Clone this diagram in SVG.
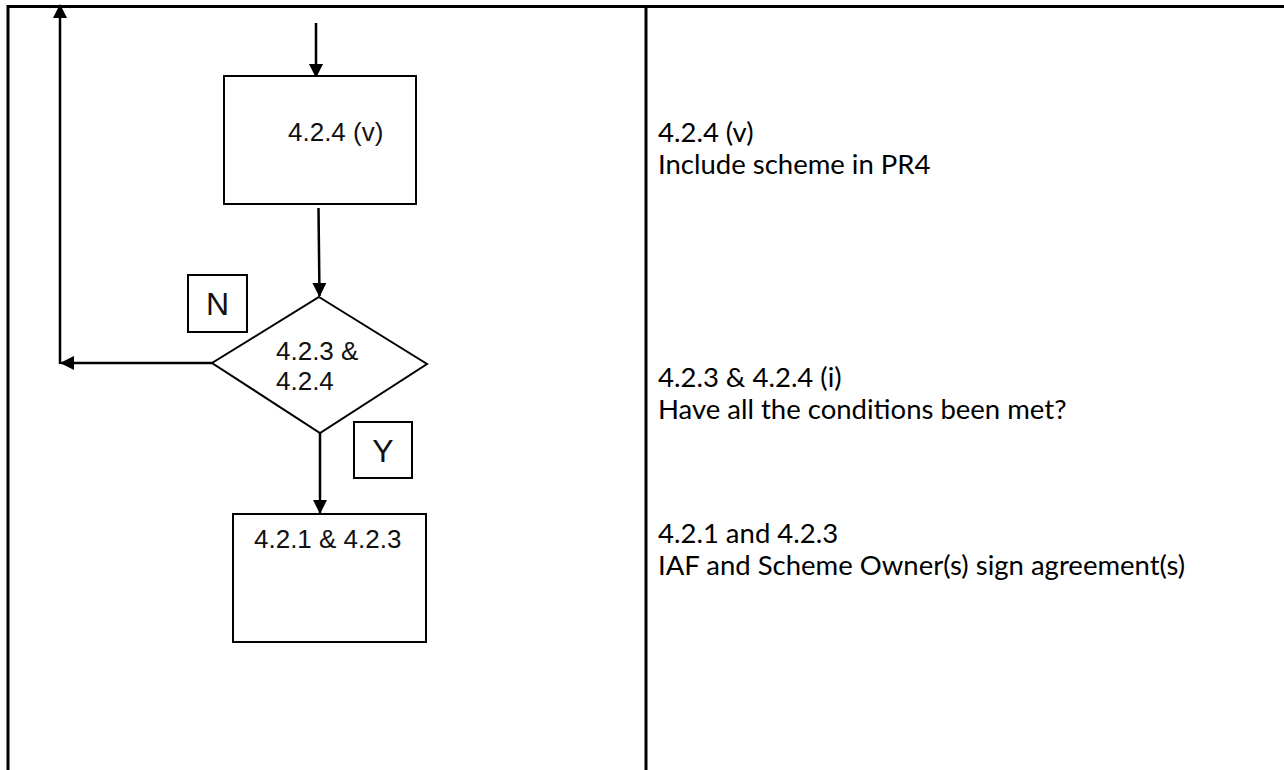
<svg xmlns="http://www.w3.org/2000/svg" width="1284" height="770" viewBox="0 0 1284 770">
<defs>
<marker id="ah" markerWidth="14" markerHeight="14" refX="13" refY="7" orient="auto" markerUnits="userSpaceOnUse">
<path d="M0,0 L14,7 L0,14 Z" fill="#000"/>
</marker>
<style>
.frame{stroke:#000;stroke-width:3;fill:none}
.shape{stroke:#000;stroke-width:2;fill:#fff}
.conn{stroke:#000;stroke-width:2.5;fill:none}
.lbl{font-family:"Liberation Sans",Arial,sans-serif;font-size:26px;fill:#111}
.big{font-family:"Liberation Sans",Arial,sans-serif;font-size:32px;fill:#111}
.desc{font-family:Lato,"Open Sans",sans-serif;font-size:27.5px;fill:#000}
</style>
</defs>
<rect width="1284" height="770" fill="#fff"/>
<g id="table">
<line class="frame" x1="8" y1="6.5" x2="1284" y2="6.5"/>
<line class="frame" x1="8" y1="5" x2="8" y2="770"/>
<line class="frame" x1="646" y1="5" x2="646" y2="770"/>
</g>
<g id="connectors">
<line class="conn" x1="316" y1="23" x2="316" y2="77" marker-end="url(#ah)"/>
<line class="conn" x1="318.5" y1="208" x2="319.5" y2="296" marker-end="url(#ah)"/>
<line class="conn" x1="212" y1="363" x2="61" y2="363" marker-end="url(#ah)"/>
<line class="conn" x1="60" y1="364" x2="60" y2="5" marker-end="url(#ah)"/>
<line class="conn" x1="320" y1="433" x2="320" y2="513" marker-end="url(#ah)"/>
</g>
<g id="box1">
<rect class="shape" x="224" y="76" width="192" height="128"/>
<text class="lbl" x="288" y="141">4.2.4 (v)</text>
</g>
<g id="decision">
<polygon class="shape" points="319,297 427,364 320,433 212,363"/>
<text class="lbl" x="276" y="360">4.2.3 &amp;</text>
<text class="lbl" x="276" y="390">4.2.4</text>
</g>
<g id="labelN">
<rect class="shape" x="188" y="275" width="59" height="57"/>
<text class="big" x="217.5" y="315" text-anchor="middle">N</text>
</g>
<g id="labelY">
<rect class="shape" x="354" y="422" width="58" height="56"/>
<text class="big" x="383" y="462" text-anchor="middle">Y</text>
</g>
<g id="box3">
<rect class="shape" x="233" y="514" width="193" height="128"/>
<text class="lbl" x="254" y="548">4.2.1 &amp; 4.2.3</text>
</g>
<g id="desc1">
<text class="desc" x="658" y="142">4.2.4 (v)</text>
<text class="desc" x="658" y="174">Include scheme in PR4</text>
</g>
<g id="desc2">
<text class="desc" x="658" y="387">4.2.3 &amp; 4.2.4 (i)</text>
<text class="desc" x="658" y="419">Have all the conditions been met?</text>
</g>
<g id="desc3">
<text class="desc" x="658" y="543">4.2.1 and 4.2.3</text>
<text class="desc" x="658" y="575">IAF and Scheme Owner(s) sign agreement(s)</text>
</g>
</svg>
